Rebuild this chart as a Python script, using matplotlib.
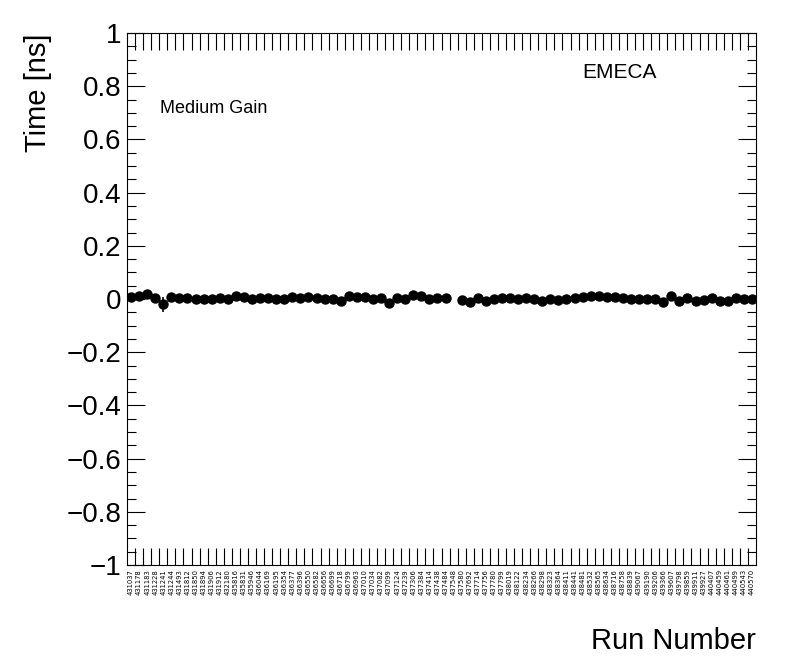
import numpy as np
import matplotlib
matplotlib.use("Agg")
import matplotlib.pyplot as plt
from matplotlib.ticker import MultipleLocator, FuncFormatter

plt.rcParams['font.family'] = ['Liberation Sans', 'DejaVu Sans']

runs = [431037, 431178, 431183, 431228, 431241, 431244, 431493, 431812, 431850, 431894,
        431906, 431912, 432180, 435816, 435831, 435946, 436044, 436169, 436195, 436354,
        436377, 436396, 436550, 436582, 436656, 436699, 436718, 436799, 436963, 437010,
        437034, 437082, 437099, 437124, 437239, 437306, 437384, 437414, 437438, 437484,
        437548, 437580, 437692, 437714, 437756, 437780, 437799, 438019, 438122, 438234,
        438266, 438298, 438323, 438364, 438411, 438441, 438481, 438532, 438565, 438634,
        438716, 438758, 438839, 439067, 439190, 439206, 439366, 439607, 439798, 439859,
        439911, 439927, 440407, 440459, 440461, 440499, 440543, 440570]

time_ns = [0.009, 0.011, 0.019, 0.003, -0.020, 0.009, 0.003, 0.003, -0.001, -0.001,
           -0.001, 0.003, -0.001, 0.011, 0.009, -0.001, 0.003, 0.003, -0.001, -0.001,
           0.009, 0.003, 0.009, 0.003, -0.001, -0.001,
           -0.006, 0.011, 0.009, 0.006, -0.001, 0.003, -0.016, 0.003, -0.001, 0.015,
           0.011, -0.001, 0.003, 0.003, np.nan,
           -0.004, -0.010, 0.003, -0.006, -0.001, 0.003, 0.003, -0.001, 0.003, -0.001, -0.006,
           -0.001, -0.004, -0.001, 0.003, 0.006, 0.011, 0.011, 0.006, 0.006, 0.003,
           -0.001, -0.001, -0.001, -0.001, -0.010, 0.011, -0.006, 0.003, -0.006, -0.004,
           0.003, -0.006, -0.006, 0.003, -0.001, -0.001]

time_err = [0.003] * len(time_ns)
time_err[2] = 0.006
time_err[4] = 0.027

nbins = len(runs)
x = np.arange(nbins) + 0.5

fig = plt.figure(figsize=(7.96, 6.72), dpi=100)
ax = fig.add_axes([127/796, 1-565/672, 629/796, 532/672])

ax.errorbar(x, time_ns, yerr=time_err, xerr=0.5, fmt='o', color='k',
            ms=6.5, elinewidth=1.2, capsize=0)

ax.set_xlim(0, nbins)
ax.set_ylim(-1, 1)

# x axis: labels at bin centers, ticks at bin edges
ax.set_xticks(x)
ax.set_xticklabels([str(r) for r in runs], rotation=90, fontsize=4.9,
                   family='DejaVu Sans')
ax.set_xticks(np.arange(1, nbins), minor=True)
ax.tick_params(axis='x', which='major', length=0, pad=3)
ax.tick_params(axis='x', which='minor', direction='in', length=12, width=0.8,
               top=True, bottom=True)


def ylab(v, p):
    s = "%g" % round(v, 2)
    return s.replace("-", "\u2212")


ax.yaxis.set_major_locator(MultipleLocator(0.2))
ax.yaxis.set_minor_locator(MultipleLocator(0.05))
ax.yaxis.set_major_formatter(FuncFormatter(ylab))
ax.tick_params(axis='y', which='major', direction='in', length=13, width=0.8,
               labelsize=20, left=True, right=True, pad=4)
ax.tick_params(axis='y', which='minor', direction='in', length=6.5, width=0.8,
               left=True, right=True)

for s in ax.spines.values():
    s.set_linewidth(0.8)

fig.text(38/796, 1-33/672, 'Time [ns]', rotation=90, ha='center', va='top', fontsize=21)
fig.text(756/796, 1-641/672, 'Run Number', ha='right', va='center', fontsize=21)

ax.text(0.0525, 0.858, 'Medium Gain', transform=ax.transAxes, ha='left', va='center',
        fontsize=13)
ax.text(0.7234, 0.925, 'EMECA', transform=ax.transAxes, ha='left', va='center',
        fontsize=15)

fig.savefig("out.png", dpi=100)
